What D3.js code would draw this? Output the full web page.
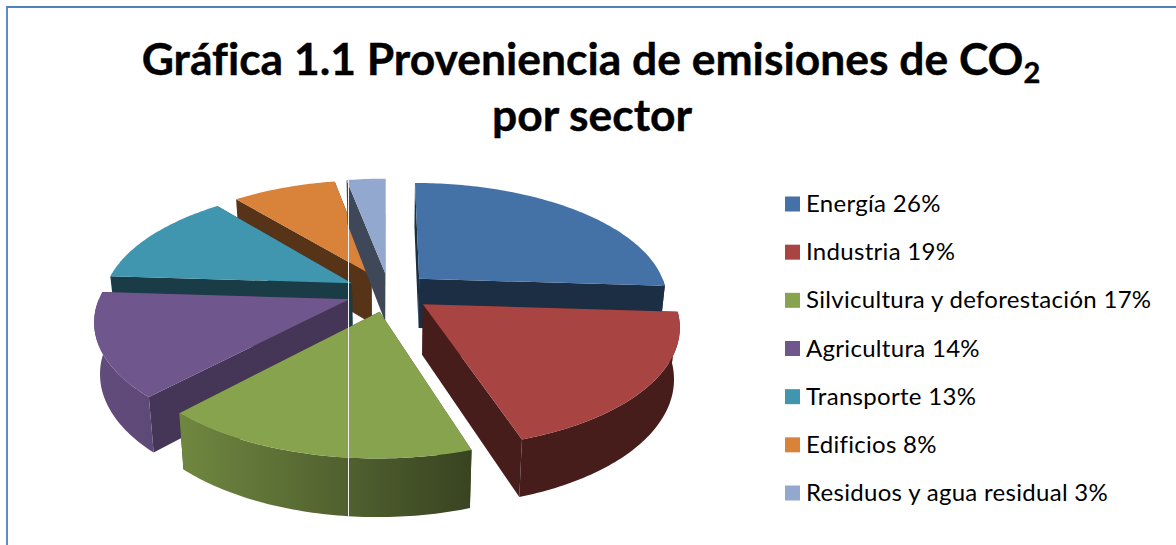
<!DOCTYPE html>
<html><head><meta charset="utf-8">
<script src="https://cdnjs.cloudflare.com/ajax/libs/d3/7.8.5/d3.min.js"></script>
<style>html,body{margin:0;padding:0;background:#fff}svg{display:block}text{font-family:Lato,"Noto Sans",sans-serif;fill:#000;font-variant-ligatures:none}</style>
</head><body><svg id="c" width="1176" height="545"></svg>
<script>
const categories = ["Energía","Industria","Silvicultura y deforestación","Agricultura","Transporte","Edificios","Residuos y agua residual"];
const values = [26,19,17,14,13,8,3];
const colors = ["#4471a6","#a84543","#87a34e","#6f568d","#3f96ae","#d9823a","#93a8cf"];
const faceShade = [0.41,0.42,0.42,0.62,0.40,0.40,0.43];
const paintOrder = [5,6,4,3,0,1,2];
const titleLines = ["Gráfica 1.1 Proveniencia de emisiones de CO","por sector"];
const lightStops = [[95,0.88],[185,0.82],[469,0.42],[700,0.42]];

const svg = d3.select("#c");
const W=1176,H=545;
const D=6.1, explode=0.17;
const xS=d3.scaleLinear().domain([-1,1]).range([389-248,389+248]);
const yS=d3.scaleLinear().domain([-1,1]).range([292-115.5,292+115.5]);
const heightS=s=>50*Math.pow(s,0.75);

function project(X,Y){
  const s=1/(1-Y/D);
  const px=xS(X*s),py=yS(Y*s),h=heightS(s);
  return {top:[px,py],bot:[xS(0)+(px-xS(0))*0.98,py+h]};
}
const arcs=d3.pie().sort(null).value(d=>d)(values);
const line=d3.line();
const shade=(c,f)=>{const r=d3.rgb(c);return d3.rgb(r.r*f,r.g*f,r.b*f).formatHex();};

svg.append("path").attr("d",`M${W},7 H7 V${H}`).attr("fill","none").attr("stroke","#4f81bd").attr("stroke-width",1.8);

const defs=svg.append("defs");
colors.forEach((c,i)=>{
  const lg=defs.append("linearGradient").attr("id","wall"+i).attr("gradientUnits","userSpaceOnUse")
    .attr("x1",lightStops[0][0]).attr("x2",lightStops[lightStops.length-1][0]).attr("y1",0).attr("y2",0);
  const span=lightStops[lightStops.length-1][0]-lightStops[0][0];
  lightStops.forEach(([x,f])=>lg.append("stop").attr("offset",(x-lightStops[0][0])/span).attr("stop-color",shade(c,f)));
});

const g=svg.append("g");
paintOrder.forEach(i=>{
  const a=arcs[i],mid=(a.startAngle+a.endAngle)/2;
  const ox=explode*Math.sin(mid),oy=-explode*Math.cos(mid);
  const rimAt=t=>project(ox+Math.sin(t),oy-Math.cos(t));
  const apex=project(ox,oy);
  const sample=(t0,t1)=>{
    const n=Math.max(4,Math.ceil((t1-t0)*180/Math.PI));
    return d3.range(n+1).map(k=>rimAt(t0+(t1-t0)*k/n));
  };
  const rim=sample(a.startAngle,a.endAngle);
  const fc=shade(colors[i],faceShade[i]);
  [rim[0],rim[rim.length-1]].forEach(r=>{
    g.append("path").attr("d",line([apex.top,r.top,r.bot,apex.bot])+"Z").attr("fill",fc);
  });
  const t0=Math.max(a.startAngle,Math.PI/2),t1=Math.min(a.endAngle,Math.PI*1.5);
  if(t1>t0){
    const w=sample(t0,t1);
    g.append("path").attr("d",line([...w.map(p=>p.top),...w.slice().reverse().map(p=>p.bot)])+"Z").attr("fill",`url(#wall${i})`);
  }
  g.append("path").attr("d",line([apex.top,...rim.map(r=>r.top)])+"Z").attr("fill",colors[i]);
});
svg.append("line").attr("x1",348.5).attr("x2",348.5).attr("y1",180).attr("y2",517).attr("stroke","#f2f2f2").attr("stroke-width",1);

const t1=svg.append("text").attr("x",591).attr("y",75).attr("text-anchor","middle").attr("font-size",44.4).attr("font-weight",700).attr("stroke","#000").attr("stroke-width",0.4);
t1.append("tspan").text(titleLines[0]);
t1.append("tspan").attr("dy",8).attr("font-size",29).text("2");
svg.append("text").attr("x",592).attr("y",131).attr("text-anchor","middle").attr("font-size",44.4).attr("font-weight",700).attr("stroke","#000").attr("stroke-width",0.4).text(titleLines[1]);

const legY=d3.scaleLinear().domain([0,6]).range([204,493]);
categories.forEach((c,i)=>{
  svg.append("rect").attr("x",785).attr("y",legY(i)-7.5).attr("width",15).attr("height",15).attr("fill",colors[i]);
  svg.append("text").attr("x",806).attr("y",legY(i)+8).attr("font-size",24).attr("letter-spacing",0.3).text(`${c} ${values[i]}%`);
});
</script></body></html>
